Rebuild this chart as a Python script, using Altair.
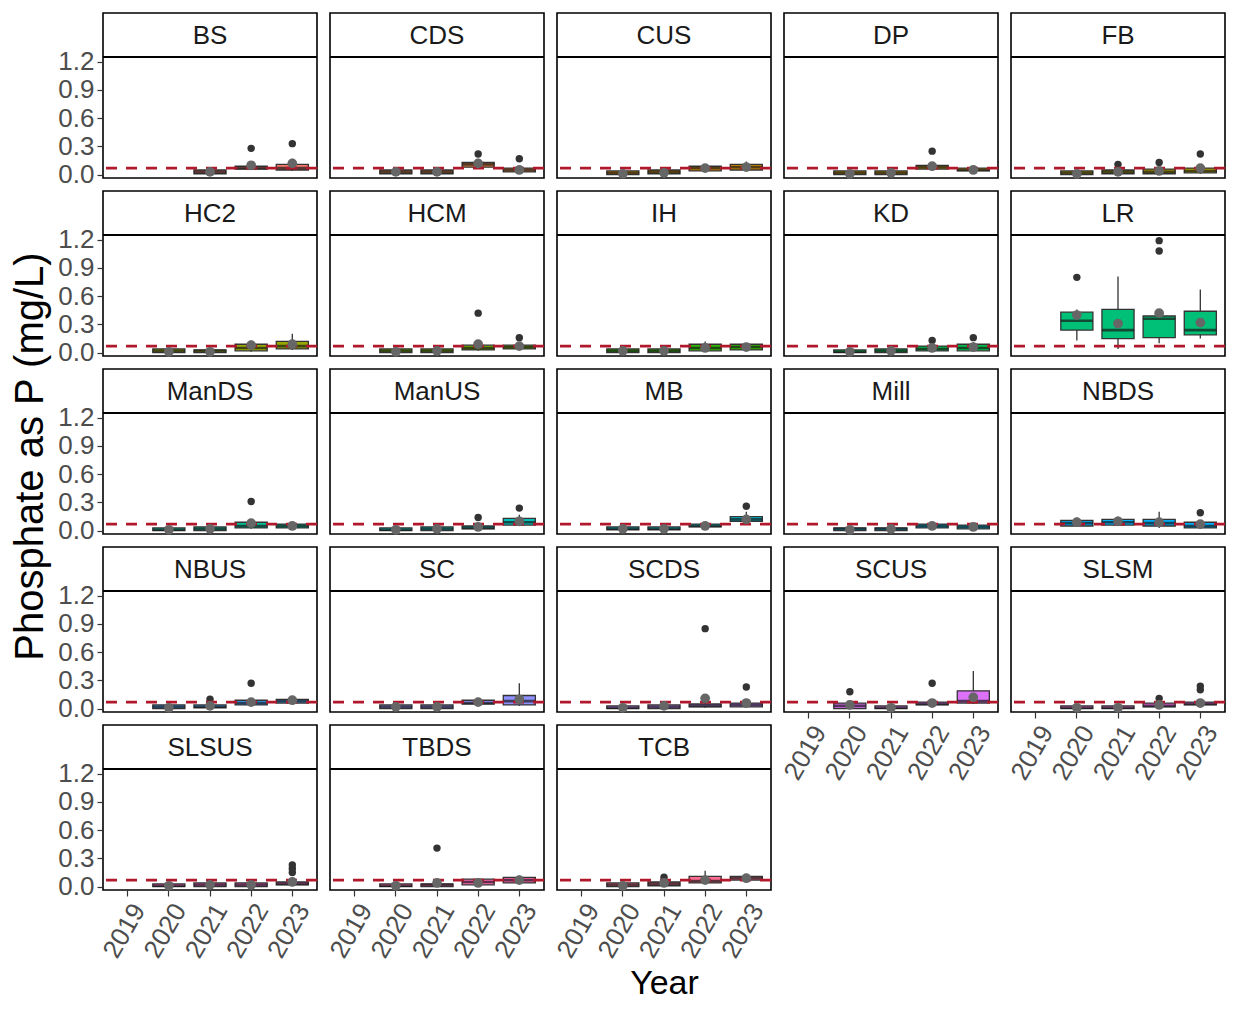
import math
import altair as alt
import pandas as pd

# ---------------- data ----------------
sites = ["BS", "CDS", "CUS", "DP", "FB", "HC2", "HCM", "IH", "KD", "LR",
         "ManDS", "ManUS", "MB", "Mill", "NBDS", "NBUS", "SC", "SCDS", "SCUS",
         "SLSM", "SLSUS", "TBDS", "TCB"]
years = ["2019", "2020", "2021", "2022", "2023"]
threshold = 0.07

# number of boxes per site (BS starts in 2021, all others 2020-2023)
box_counts = [3] + [4] * 22
box_year = ["2021", "2022", "2023"] + ["2020", "2021", "2022", "2023"] * 22

box_lo = [0.00, 0.05, 0.04,
          0.00, 0.00, 0.07, 0.02,  0.00, 0.00, 0.03, 0.04,  0.00, 0.00, 0.05, 0.03,
          0.00, 0.00, 0.00, 0.01,  0.00, 0.00, 0.01, 0.03,  0.00, 0.00, 0.02, 0.03,
          0.00, 0.00, 0.01, 0.02,  0.00, 0.00, 0.01, 0.01,  0.13, 0.04, 0.10, 0.15,
          0.00, 0.00, 0.02, 0.02,  0.00, 0.00, 0.01, 0.05,  0.00, 0.00, 0.03, 0.09,
          0.00, 0.00, 0.02, 0.01,  0.04, 0.05, 0.03, 0.02,  0.00, 0.00, 0.03, 0.05,
          0.00, 0.00, 0.04, 0.03,  0.00, 0.00, 0.01, 0.01,  0.00, 0.00, 0.03, 0.05,
          0.00, 0.00, 0.01, 0.03,  0.00, 0.00, 0.00, 0.01,  0.00, 0.00, 0.01, 0.03,
          0.00, 0.00, 0.03, 0.06]
box_q1 = [0.01, 0.06, 0.05,
          0.01, 0.01, 0.08, 0.03,  0.00, 0.01, 0.04, 0.05,  0.00, 0.00, 0.06, 0.04,
          0.00, 0.01, 0.01, 0.02,  0.00, 0.00, 0.02, 0.04,  0.00, 0.00, 0.03, 0.04,
          0.00, 0.00, 0.02, 0.03,  0.00, 0.00, 0.02, 0.02,  0.24, 0.15, 0.16, 0.19,
          0.00, 0.00, 0.03, 0.03,  0.00, 0.00, 0.02, 0.06,  0.01, 0.01, 0.04, 0.10,
          0.00, 0.00, 0.03, 0.02,  0.05, 0.06, 0.05, 0.03,  0.00, 0.01, 0.04, 0.06,
          0.00, 0.00, 0.05, 0.04,  0.00, 0.00, 0.02, 0.02,  0.00, 0.00, 0.04, 0.06,
          0.00, 0.00, 0.02, 0.04,  0.00, 0.00, 0.00, 0.02,  0.00, 0.00, 0.02, 0.04,
          0.00, 0.01, 0.04, 0.07]
box_med = [0.03, 0.07, 0.07,
           0.03, 0.03, 0.11, 0.05,  0.02, 0.03, 0.07, 0.08,  0.02, 0.02, 0.08, 0.05,
           0.02, 0.03, 0.03, 0.04,  0.02, 0.02, 0.05, 0.07,  0.02, 0.02, 0.05, 0.06,
           0.02, 0.02, 0.05, 0.06,  0.01, 0.02, 0.04, 0.05,  0.34, 0.24, 0.36, 0.24,
           0.01, 0.02, 0.05, 0.05,  0.01, 0.02, 0.03, 0.09,  0.02, 0.02, 0.05, 0.12,
           0.02, 0.02, 0.05, 0.04,  0.08, 0.09, 0.08, 0.05,  0.02, 0.02, 0.06, 0.08,
           0.02, 0.02, 0.06, 0.08,  0.01, 0.02, 0.03, 0.04,  0.03, 0.01, 0.05, 0.08,
           0.01, 0.01, 0.03, 0.05,  0.01, 0.02, 0.02, 0.03,  0.01, 0.02, 0.05, 0.07,
           0.02, 0.03, 0.06, 0.09]
box_q3 = [0.05, 0.09, 0.11,
          0.05, 0.05, 0.13, 0.07,  0.04, 0.05, 0.09, 0.11,  0.04, 0.04, 0.10, 0.07,
          0.04, 0.05, 0.06, 0.07,  0.04, 0.03, 0.09, 0.12,  0.04, 0.04, 0.08, 0.08,
          0.04, 0.04, 0.09, 0.09,  0.03, 0.04, 0.07, 0.09,  0.43, 0.46, 0.39, 0.44,
          0.03, 0.04, 0.09, 0.07,  0.03, 0.04, 0.05, 0.13,  0.04, 0.04, 0.07, 0.15,
          0.03, 0.03, 0.07, 0.06,  0.11, 0.12, 0.12, 0.09,  0.04, 0.04, 0.09, 0.10,
          0.04, 0.04, 0.09, 0.14,  0.03, 0.04, 0.05, 0.06,  0.06, 0.03, 0.07, 0.19,
          0.03, 0.03, 0.06, 0.07,  0.03, 0.04, 0.04, 0.05,  0.03, 0.03, 0.08, 0.10,
          0.04, 0.05, 0.11, 0.11]
box_hi = [0.06, 0.12, 0.17,
          0.06, 0.06, 0.17, 0.09,  0.05, 0.06, 0.10, 0.14,  0.05, 0.05, 0.12, 0.08,
          0.05, 0.06, 0.07, 0.09,  0.05, 0.04, 0.13, 0.20,  0.05, 0.05, 0.10, 0.09,
          0.05, 0.05, 0.12, 0.10,  0.04, 0.06, 0.09, 0.11,  0.46, 0.81, 0.40, 0.67,
          0.04, 0.05, 0.11, 0.08,  0.04, 0.05, 0.07, 0.17,  0.05, 0.05, 0.08, 0.20,
          0.04, 0.04, 0.08, 0.07,  0.14, 0.15, 0.20, 0.11,  0.05, 0.05, 0.10, 0.11,
          0.05, 0.05, 0.10, 0.27,  0.04, 0.05, 0.07, 0.08,  0.08, 0.04, 0.09, 0.40,
          0.04, 0.04, 0.07, 0.09,  0.04, 0.06, 0.05, 0.07,  0.04, 0.05, 0.09, 0.12,
          0.05, 0.06, 0.17, 0.12]
box_mean = [0.03, 0.10, 0.12,
            0.03, 0.03, 0.12, 0.05,  0.01, 0.02, 0.07, 0.08,  0.01, 0.02, 0.09, 0.05,
            0.01, 0.03, 0.04, 0.07,  0.01, 0.01, 0.08, 0.09,  0.01, 0.02, 0.09, 0.07,
            0.02, 0.02, 0.05, 0.06,  0.01, 0.02, 0.05, 0.06,  0.40, 0.31, 0.42, 0.32,
            0.01, 0.02, 0.08, 0.05,  0.01, 0.02, 0.04, 0.10,  0.02, 0.02, 0.05, 0.12,
            0.01, 0.02, 0.05, 0.04,  0.09, 0.10, 0.09, 0.07,  0.01, 0.03, 0.07, 0.09,
            0.02, 0.02, 0.07, 0.10,  0.01, 0.03, 0.11, 0.06,  0.04, 0.01, 0.06, 0.12,
            0.01, 0.01, 0.04, 0.06,  0.01, 0.02, 0.02, 0.05,  0.01, 0.04, 0.04, 0.07,
            0.01, 0.04, 0.07, 0.09]

out_site = ["BS", "BS", "CDS", "CDS", "DP", "FB", "FB", "FB", "HCM", "HCM", "KD", "KD",
            "LR", "LR", "LR", "ManDS", "ManUS", "ManUS", "MB", "NBDS", "NBUS", "NBUS",
            "SCDS", "SCDS", "SCUS", "SCUS", "SLSM", "SLSM", "SLSM",
            "SLSUS", "SLSUS", "SLSUS", "TBDS", "TCB"]
out_year = ["2022", "2023", "2022", "2023", "2022", "2021", "2022", "2023", "2022", "2023",
            "2022", "2023", "2020", "2022", "2022", "2022", "2022", "2023", "2023", "2023",
            "2021", "2022", "2022", "2023", "2020", "2022", "2022", "2023", "2023",
            "2023", "2023", "2023", "2021", "2021"]
out_value = [0.28, 0.33, 0.22, 0.17, 0.25, 0.11, 0.13, 0.22, 0.42, 0.16, 0.13, 0.16,
             0.80, 1.08, 1.19, 0.31, 0.14, 0.24, 0.26, 0.19, 0.10, 0.27,
             0.85, 0.23, 0.18, 0.27, 0.11, 0.20, 0.24,
             0.15, 0.19, 0.23, 0.41, 0.10]

# ---------------- tables ----------------
box_site = [s for s, n in zip(sites, box_counts) for _ in range(n)]
box_df = pd.DataFrame({"site": box_site, "year": box_year, "lo": box_lo, "q1": box_q1,
                       "med": box_med, "q3": box_q3, "hi": box_hi, "mean": box_mean})
out_df = pd.DataFrame({"site": out_site, "year": out_year, "value": out_value})


# ggplot2 default hue palette (hcl, c=100, l=65)
def hcl_hex(h, c=100.0, l=65.0):
    Xn, Yn, Zn = 95.047, 100.0, 108.883
    un = 4 * Xn / (Xn + 15 * Yn + 3 * Zn)
    vn = 9 * Yn / (Xn + 15 * Yn + 3 * Zn)
    hr = math.radians(h)
    u, v = c * math.cos(hr), c * math.sin(hr)
    Y = Yn * ((l + 16) / 116) ** 3
    up = u / (13 * l) + un
    vp = v / (13 * l) + vn
    X = Y * 9 * up / (4 * vp)
    Z = Y * (12 - 3 * up - 20 * vp) / (4 * vp)
    X, Y, Z = X / 100, Y / 100, Z / 100
    rgb = [3.2404542 * X - 1.5371385 * Y - 0.4985314 * Z,
           -0.9692660 * X + 1.8760108 * Y + 0.0415560 * Z,
           0.0556434 * X - 0.2040259 * Y + 1.0572252 * Z]

    def gam(t):
        t = 12.92 * t if t <= 0.0031308 else 1.055 * (max(t, 0) ** (1 / 2.4)) - 0.055
        return min(max(t, 0.0), 1.0)
    return "#%02x%02x%02x" % tuple(int(round(gam(t) * 255)) for t in rgb)


n = len(sites)
palette = [hcl_hex(15 + i * 360.0 / n) for i in range(n)]

# ---------------- layout / style ----------------
FONT = "Liberation Sans"
W = 214
STRIP = 44
PLOT = 121
H = STRIP + PLOT
BAND = 0.78
BW = W / 5.2 * BAND

yscale = alt.Scale(domain=[-0.035, 1.25], range=[H, STRIP], nice=False, zero=False)
xscale = alt.Scale(type="band", domain=years, paddingInner=0, paddingOuter=0.1)


def panel(i, site):
    show_y = (i % 5 == 0)
    show_x = i >= 18
    color = palette[i]
    b = box_df[box_df.site == site]
    o = out_df[out_df.site == site]

    if show_y:
        yaxis = alt.Axis(values=[0, 0.3, 0.6, 0.9, 1.2], format=".1f", domain=False,
                         grid=False, tickSize=6, labelPadding=3, labelOverlap=False,
                         title="Phosphate as P (mg/L)" if site == "ManDS" else None,
                         titleFontSize=40, titlePadding=7, titleY=87)
    else:
        yaxis = None
    if show_x:
        xaxis = alt.Axis(labelAngle=-60, labelAlign="right", labelBaseline="top",
                         labelOverlap=False, domain=False, grid=False, tickSize=6,
                         labelPadding=3,
                         title="Year" if site == "TCB" else None,
                         titleFontSize=34, titlePadding=4)
    else:
        xaxis = None

    def X():
        return alt.X("year:O", scale=xscale, axis=xaxis)

    def Y(field):
        return alt.Y(field, scale=yscale, axis=yaxis)

    whisk = alt.Chart(b).mark_rule(color="#333333", strokeWidth=1.3).encode(
        x=X(), y=Y("lo:Q"), y2="hi:Q")
    box = alt.Chart(b).mark_bar(width=alt.RelativeBandSize(BAND), fill=color,
                                stroke="#333333", strokeWidth=1.3).encode(
        x=X(), y=Y("q1:Q"), y2="q3:Q")
    med = alt.Chart(b).mark_tick(size=BW, thickness=2.6, color="#1a1a1a",
                                 orient="horizontal").encode(x=X(), y=Y("med:Q"))
    outl = alt.Chart(o).mark_circle(size=55, color="#333333", opacity=1).encode(
        x=X(), y=Y("value:Q"))
    thr = alt.Chart(pd.DataFrame({"thr": [threshold]})).mark_rule(
        color="#B2182B", strokeDash=[11, 9], strokeWidth=2.8).encode(y=Y("thr:Q"))
    mean = alt.Chart(b).mark_circle(size=95, color="#666666", opacity=1).encode(
        x=X(), y=Y("mean:Q"))
    sep = alt.Chart(pd.DataFrame({"s": [site]})).mark_rule(
        color="black", strokeWidth=2).encode(
        x=alt.value(0), x2=alt.value(W), y=alt.value(STRIP))
    label = alt.Chart(pd.DataFrame({"s": [site]})).mark_text(
        fontSize=26, color="#1A1A1A", font=FONT, baseline="middle", align="center").encode(
        x=alt.value(W / 2), y=alt.value(STRIP / 2 + 1), text="s:N")

    return alt.layer(whisk, box, med, outl, thr, mean, sep, label).properties(
        width=W, height=H)


panels = [panel(i, s) for i, s in enumerate(sites)]

chart = alt.concat(*panels, columns=5, spacing=13, bounds="flush",
                   padding={"left": 2, "top": 4, "right": 0, "bottom": 0}).configure(
    font=FONT
).configure_view(
    stroke="black", strokeWidth=1.6
).configure_axis(
    labelFont=FONT, titleFont=FONT, labelFontSize=26, labelColor="#4D4D4D",
    tickColor="#333333", tickWidth=1.2, titleColor="black", titleFontWeight="normal"
)

chart.save("out.html", embed_options={"renderer": "svg", "actions": False})
